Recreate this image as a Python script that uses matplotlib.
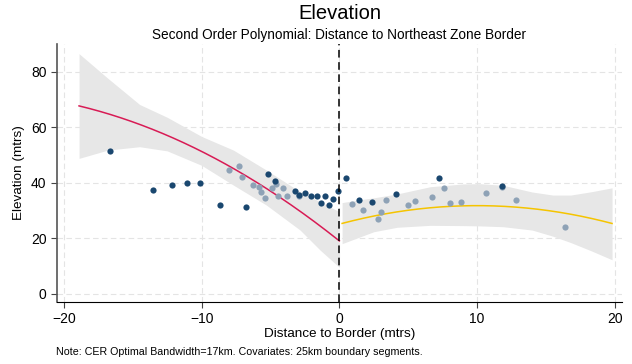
import matplotlib
matplotlib.use("Agg")
import matplotlib.pyplot as plt
import numpy as np

plt.rcParams['font.family'] = ['Liberation Sans', 'DejaVu Sans']

# Binned means: dark markers
dark_x = [-16.65, -13.53, -12.17, -11.05, -10.1, -8.7, -6.79, -5.16, -4.65, -3.25, -2.93,
          -2.50, -2.04, -1.60, -1.33, -1.07, -0.78, -0.44, -0.07, 0.46, 1.43, 2.38, 4.10,
          7.25, 11.83]
dark_y = [51.4, 37.4, 39.4, 40.0, 39.9, 32.2, 31.4, 43.1, 40.6, 37.1, 35.8,
          36.5, 35.2, 35.1, 32.7, 35.1, 32.0, 34.2, 37.1, 41.8, 34.0, 33.2, 35.9,
          41.8, 39.0]
# Binned means: light markers
light_x = [-7.98, -7.32, -7.10, -6.28, -5.87, -5.67, -5.43, -4.92, -4.60, -4.44, -4.12,
           -3.83, -2.90, 0.95, 1.72, 2.79, 3.05, 3.42, 5.02, 5.50, 6.74, 7.60, 8.02,
           8.82, 10.67, 11.80, 12.83, 16.36]
light_y = [44.7, 46.0, 42.2, 39.3, 38.4, 36.6, 34.6, 38.2, 39.6, 35.2, 38.2,
           35.1, 35.4, 32.3, 30.3, 26.9, 29.4, 33.8, 32.0, 33.6, 35.0, 38.2, 32.6,
           33.0, 36.5, 38.6, 33.9, 24.0]

# Quadratic fits (coefficients a, b, c) and x-ranges
left_coef = [19.1, -3.949, -0.0729]
left_range = [-18.9, 0.0]
right_coef = [25.13, 1.333, -0.0667]
right_range = [0.2, 19.8]

# Confidence bands
left_ci_x = [-18.9, -16.8, -14.5, -12.5, -10.0, -7.7, -5.3, -2.85, -1.4, 0.0]
left_ci_hi = [86.5, 77.6, 68.2, 63.6, 56.7, 51.8, 44.6, 36.8, 33.2, 29.6]
left_ci_lo = [48.8, 51.8, 53.0, 51.5, 46.3, 39.2, 32.0, 23.0, 15.8, 9.6]
right_ci_x = [0.2, 1.75, 2.5, 4.2, 6.6, 9.0, 10.2, 11.9, 14.0, 15.5, 16.8, 18.3, 19.8]
right_ci_hi = [32.9, 34.1, 34.6, 36.0, 38.6, 39.6, 39.7, 39.1, 36.7, 35.6, 35.6, 36.8, 38.2]
right_ci_lo = [18.1, 21.0, 22.4, 24.0, 24.7, 24.6, 24.5, 24.2, 23.0, 20.8, 18.5, 15.5, 12.3]

x_ticks = [-20, -10, 0, 10, 20]
y_ticks = [0, 20, 40, 60, 80]

fig = plt.figure(figsize=(6.32, 3.64), dpi=100)
ax = fig.add_axes([0.0902, 0.1703, 0.8935, 0.709])

band_color = '#e7e7e7'
ax.fill_between(left_ci_x, left_ci_lo, left_ci_hi, color=band_color, lw=0, zorder=1)
ax.fill_between(right_ci_x, right_ci_lo, right_ci_hi, color=band_color, lw=0, zorder=1)

xl = np.linspace(left_range[0], left_range[1], 200)
ax.plot(xl, np.polyval(left_coef[::-1], xl), color='#d81b55', lw=1.1, zorder=3)
xr = np.linspace(right_range[0], right_range[1], 200)
ax.plot(xr, np.polyval(right_coef[::-1], xr), color='#f5c400', lw=1.1, zorder=3)

ax.scatter(light_x, light_y, s=20, color='#8ea2b6', lw=0, zorder=4)
ax.scatter(dark_x, dark_y, s=20, color='#1a476f', lw=0, zorder=5)

ax.axvline(0, color='black', lw=1.1, ls=(0, (5, 3)), zorder=6)

ax.set_xlim(-20.5, 20.5)
ax.set_ylim(-2.9, 90)
ax.set_xticks(x_ticks)
ax.set_yticks(y_ticks)
ax.grid(True, color='#e4e4e4', ls=(0, (5, 3)), lw=0.8)
ax.set_axisbelow(True)
for s in ['top', 'right']:
    ax.spines[s].set_visible(False)
ax.spines['left'].set_color('#555555')
ax.spines['left'].set_linewidth(1.2)
ax.spines['bottom'].set_color('black')
ax.tick_params(labelsize=10, length=4, color='#444444')

ax.set_xlabel('Distance to Border (mtrs)', fontsize=9.7, labelpad=1)
ax.set_ylabel('Elevation (mtrs)', fontsize=9.7, labelpad=4)

fig.text(0.537, 0.964, 'Elevation', ha='center', va='center', fontsize=14.5)
fig.text(0.537, 0.904, 'Second Order Polynomial: Distance to Northeast Zone Border',
         ha='center', va='center', fontsize=9.8)
fig.text(0.088, 0.033, 'Note: CER Optimal Bandwidth=17km. Covariates: 25km boundary segments.',
         ha='left', va='center', fontsize=7.7)

fig.savefig('out.png', dpi=100)
